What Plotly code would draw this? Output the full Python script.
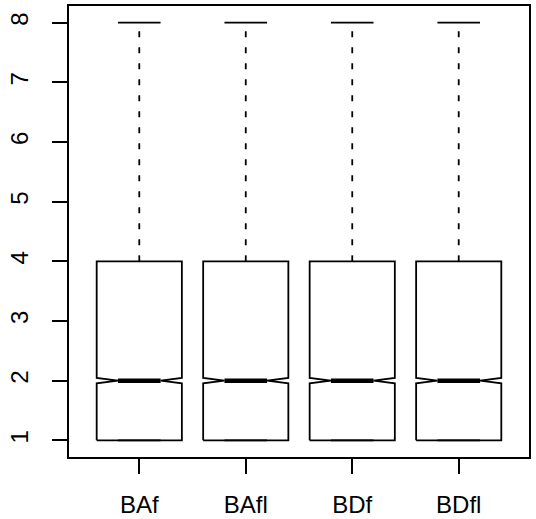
import plotly.graph_objects as go

# ---- data ----
categories = ["BAf", "BAfl", "BDf", "BDfl"]
whisker_low = [1, 1, 1, 1]
q1 = [1, 1, 1, 1]
median = [2, 2, 2, 2]
q3 = [4, 4, 4, 4]
whisker_high = [8, 8, 8, 8]
notch_low = [1.955, 1.955, 1.955, 1.955]
notch_high = [2.045, 2.045, 2.045, 2.045]
y_ticks = [1, 2, 3, 4, 5, 6, 7, 8]

# ---- style ----
BOX_HALF = 0.4
NOTCH_HALF = 0.2
CAP_HALF = 0.2
LW = 1.8
FONT = "Liberation Sans, Arial, Helvetica, sans-serif"
TICKFONT = dict(family=FONT, size=24, color="black")

fig = go.Figure()
for i, cat in enumerate(categories):
    x = i + 1
    # notched box outline
    xs = [x - BOX_HALF, x + BOX_HALF, x + BOX_HALF, x + NOTCH_HALF, x + BOX_HALF,
          x + BOX_HALF, x - BOX_HALF, x - BOX_HALF, x - NOTCH_HALF, x - BOX_HALF, x - BOX_HALF]
    ys = [q1[i], q1[i], notch_low[i], median[i], notch_high[i],
          q3[i], q3[i], notch_high[i], median[i], notch_low[i], q1[i]]
    fig.add_trace(go.Scatter(x=xs, y=ys, mode="lines", line=dict(color="black", width=LW),
                             hoverinfo="skip", showlegend=False))
    # median
    fig.add_trace(go.Scatter(x=[x - NOTCH_HALF, x + NOTCH_HALF], y=[median[i], median[i]], mode="lines",
                             line=dict(color="black", width=4.5), hoverinfo="skip", showlegend=False))
    # whiskers (dashed)
    fig.add_trace(go.Scatter(x=[x, x], y=[q3[i], whisker_high[i]], mode="lines",
                             line=dict(color="black", width=LW, dash="6px,10px"),
                             hoverinfo="skip", showlegend=False))
    fig.add_trace(go.Scatter(x=[x, x], y=[q1[i], whisker_low[i]], mode="lines",
                             line=dict(color="black", width=LW, dash="6px,10px"),
                             hoverinfo="skip", showlegend=False))
    # staples
    for v in (whisker_high[i], whisker_low[i]):
        fig.add_trace(go.Scatter(x=[x - CAP_HALF, x + CAP_HALF], y=[v, v], mode="lines",
                                 line=dict(color="black", width=LW), hoverinfo="skip", showlegend=False))

fig.update_layout(
    width=536, height=519,
    margin=dict(l=69, r=7, t=6, b=62),
    plot_bgcolor="white", paper_bgcolor="white",
    font=TICKFONT,
)
fig.update_xaxes(
    range=[0.34, 4.66], tickmode="array", tickvals=list(range(1, len(categories) + 1)), ticktext=categories,
    tickfont=TICKFONT, automargin=False,
    showgrid=False, zeroline=False, showline=True, mirror=True, linecolor="black", linewidth=LW,
    ticks="outside", ticklen=15, tickwidth=LW, tickcolor="black", ticklabelstandoff=10,
)
fig.update_yaxes(
    range=[0.72, 8.28], tickmode="array", tickvals=y_ticks, ticktext=[str(v) for v in y_ticks],
    tickangle=-90, tickfont=TICKFONT, automargin=False,
    showgrid=False, zeroline=False, showline=True, mirror=True, linecolor="black", linewidth=LW,
    ticks="outside", ticklen=15, tickwidth=LW, tickcolor="black", ticklabelstandoff=15,
)
fig.write_html("out.html", config={"displayModeBar": False},
               post_script="document.body.style.margin='0';document.body.style.overflow='hidden';")
